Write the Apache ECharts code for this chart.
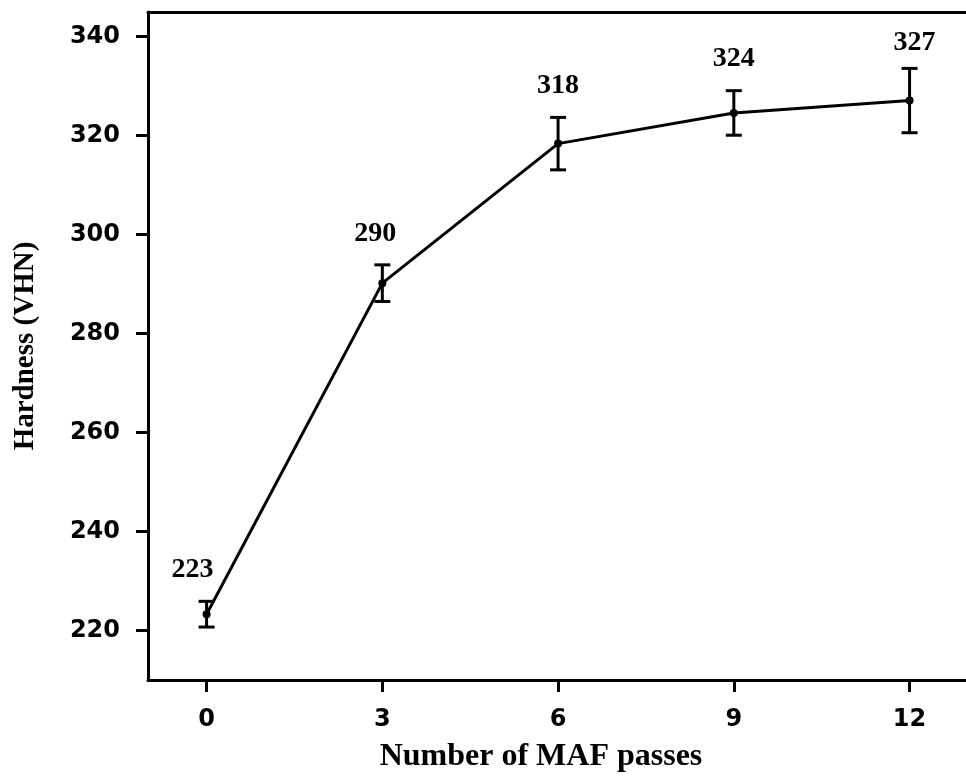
<!DOCTYPE html>
<html>
<head>
<meta charset="utf-8">
<script src="https://cdn.jsdelivr.net/npm/echarts@6/dist/echarts.min.js"></script>
<style>
  html, body { margin: 0; padding: 0; background: #fff; }
  #chart { width: 966px; height: 783px; }
</style>
</head>
<body>
<div id="chart"></div>
<script>
// data
const passes = [0, 3, 6, 9, 12]
const hardness = [223.3, 290.2, 318.4, 324.6, 327.1]
const errors = [2.6, 3.7, 5.3, 4.5, 6.5]
const valueLabels = ['223', '290', '318', '324', '327']
const xTicks = [0, 3, 6, 9, 12]
const yTicks = [220, 240, 260, 280, 300, 320, 340]

// label nudges (px) relative to the top cap of each error bar
const labelDx = [-14, -7, 0, 0, 5]
const labelGap = [18, 17, 18, 18, 12]

const chart = echarts.init(document.getElementById('chart'))

const tickFont = { fontFamily: 'DejaVu Sans', fontWeight: 'bold', fontSize: 24, color: '#000' }
const serifFont = { fontFamily: 'Liberation Serif', fontWeight: 'bold', fontSize: 29, color: '#000' }
const blackLine = { color: '#000', width: 3 }

const errData = passes.map((p, i) => [p, hardness[i] - errors[i], hardness[i] + errors[i], i])

const option = {
  animation: false,
  grid: {
    left: 148, top: 12, width: 826, height: 668,
    outerBoundsMode: 'none',
    containLabel: false,
    show: false
  },
  xAxis: [
    {
      type: 'value',
      min: -1, max: 13.1,
      name: 'Number of MAF passes',
      nameLocation: 'middle',
      nameGap: 61,
      nameMoveOverlap: false,
      nameTextStyle: Object.assign({}, serifFont, { fontSize: 32, padding: [0, 40, 0, 0] }),
      axisLine: { onZero: false, lineStyle: blackLine },
      axisTick: { show: true, length: 12, lineStyle: blackLine, customValues: xTicks },
      axisLabel: Object.assign({}, tickFont, { margin: 28, customValues: xTicks }),
      splitLine: { show: false }
    },
    {
      // top frame line only
      type: 'value',
      position: 'top',
      min: -1, max: 13.1,
      axisLine: { onZero: false, lineStyle: blackLine },
      axisTick: { show: false },
      axisLabel: { show: false },
      splitLine: { show: false }
    }
  ],
  yAxis: {
    type: 'value',
    min: 210, max: 345,
    name: 'Hardness (VHN)',
    nameLocation: 'middle',
    nameGap: 108,
    nameMoveOverlap: false,
    nameTextStyle: serifFont,
    axisLine: { show: true, onZero: false, lineStyle: blackLine },
    axisTick: { show: true, length: 12, lineStyle: blackLine, customValues: yTicks },
    axisLabel: Object.assign({}, tickFont, { margin: 28, customValues: yTicks }),
    splitLine: { show: false }
  },
  series: [
    {
      type: 'line',
      data: passes.map((p, i) => [p, hardness[i]]),
      symbol: 'circle',
      symbolSize: 8,
      itemStyle: { color: '#000' },
      lineStyle: { color: '#000', width: 3 },
      z: 3
    },
    {
      type: 'custom',
      data: errData,
      renderItem: function (params, api) {
        const x = api.value(0)
        const lo = api.coord([x, api.value(1)])
        const hi = api.coord([x, api.value(2)])
        const i = api.value(3)
        const half = 8
        const st = { stroke: '#000', lineWidth: 3 }
        return {
          type: 'group',
          children: [
            { type: 'line', shape: { x1: hi[0], y1: hi[1], x2: lo[0], y2: lo[1] }, style: st },
            { type: 'line', shape: { x1: hi[0] - half, y1: hi[1], x2: hi[0] + half, y2: hi[1] }, style: st },
            { type: 'line', shape: { x1: lo[0] - half, y1: lo[1], x2: lo[0] + half, y2: lo[1] }, style: st },
            {
              type: 'text',
              x: hi[0] + labelDx[i],
              y: hi[1] - labelGap[i],
              style: {
                text: valueLabels[i],
                font: 'bold 28px "Liberation Serif"',
                fill: '#000',
                align: 'center',
                verticalAlign: 'bottom'
              }
            }
          ]
        }
      },
      z: 4
    }
  ]
}

chart.setOption(option)
</script>
</body>
</html>
